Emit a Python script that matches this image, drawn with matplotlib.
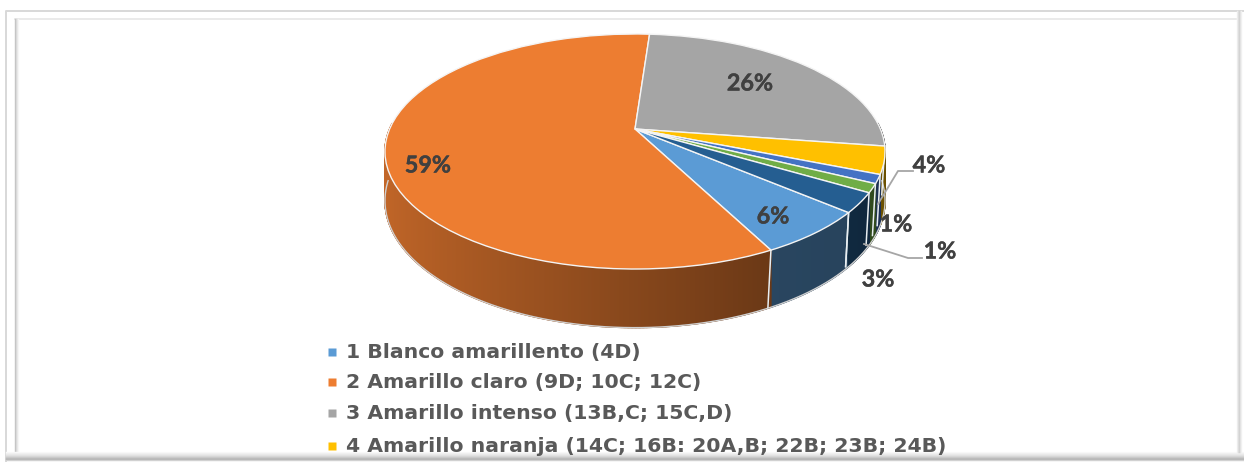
import numpy as np
import matplotlib
matplotlib.use("Agg")
import matplotlib.pyplot as plt
import matplotlib.patheffects as pe
from matplotlib.transforms import Transform
from matplotlib.collections import PolyCollection
from matplotlib.colors import to_rgb

# ---- data ----
slice_values = [6.2, 58.7, 26.2, 3.75, 1.2, 1.2, 2.7]
slice_colors = ["#5B9BD5", "#ED7D31", "#A5A5A5", "#FFC000", "#4472C4", "#70AD47", "#255E91"]
legend_labels = ["1 Blanco amarillento (4D)",
                 "2 Amarillo claro (9D; 10C; 12C)",
                 "3 Amarillo intenso (13B,C; 15C,D)",
                 "4 Amarillo naranja (14C; 16B: 20A,B; 22B; 23B; 24B)"]

# ---- layout ----
W, H = 1244, 464
X0, Y0 = 635, 130
A, B, K = 245.4, 113.2, 0.1915
DEPTH = 47.4
START_CW = 130.3  # clockwise from 12 o'clock
label_xy = [(773, 218), (428, 167), (750, 85), (929, 167), (896, 226), (940, 253), (878, 281)]
legend_y = [353, 383, 414, 447]

class Tilt(Transform):
    input_dims = output_dims = 2
    is_separable = False
    has_inverse = False
    def transform_non_affine(self, xy):
        xy = np.asarray(xy, float)
        u, v = xy[:, 0], -xy[:, 1]
        d = 1 - K * v
        return np.column_stack([X0 + A * u / d, Y0 + B * v / d])

fig = plt.figure(figsize=(W / 100, H / 100), dpi=100, facecolor="white")
ax = fig.add_axes([0, 0, 1, 1])

wedges, _ = ax.pie(slice_values, colors=slice_colors, startangle=90 - START_CW,
                   counterclock=False, radius=1,
                   wedgeprops=dict(edgecolor="#F4F4F4", linewidth=1.0))
tilt = Tilt()
for w in wedges:
    w.set_transform(tilt + ax.transData)
    w.set_zorder(3)
    w.set_clip_on(False)

ax.set_aspect("auto")
ax.set_xlim(0, W)
ax.set_ylim(H, 0)
ax.axis("off")

# ---- side wall ----
def project(th):
    u, v = np.sin(th), -np.cos(th)
    d = 1 - K * v
    return X0 + A * u / d, Y0 + B * v / d, DEPTH / d, u, v

fractions = np.array(slice_values) / sum(slice_values)
edges = np.radians(START_CW + 360 * np.concatenate([[0], np.cumsum(fractions)]))
polys, cols = [], []
for i, col in enumerate(slice_colors):
    th = np.linspace(edges[i], edges[i + 1], max(6, int(fractions[i] * 1400)))
    x, y, dep, u, v = project(th)
    rgb = np.array(to_rgb(col))
    for j in range(len(th) - 1):
        if v[j] < -0.05 and v[j + 1] < -0.05:
            continue
        polys.append([(x[j], y[j]), (x[j + 1], y[j + 1]),
                      (x[j + 1], y[j + 1] + dep[j + 1]), (x[j], y[j] + dep[j])])
        um = (u[j] + u[j + 1]) / 2
        f = np.interp(um, [-1, 0.46, 1], [0.82, 0.45, 0.42])
        cols.append(tuple(rgb * f))
ax.add_collection(PolyCollection(polys, facecolors=cols, edgecolors=cols,
                                 linewidths=1.0, zorder=2))
# white joins between slices on the wall
for e in edges:
    x, y, dep, u, v = project(np.array([e]))
    if v[0] > 0:
        ax.plot([x[0], x[0] - 3], [y[0], y[0] + dep[0]], color="#E8EEF2", lw=1.1, zorder=2.5)
# pale rim under the wall
th = np.radians(np.linspace(92, 268, 200))
x, y, dep, u, v = project(th)
ax.plot(x, y + dep, color="#D0D0D0", lw=1.0, zorder=2.2)

# ---- leader lines ----
ax.plot([878, 898, 913], [205, 172, 172], color="#A6A6A6", lw=1.3, zorder=4)
ax.plot([864, 908, 922], [245, 259, 259], color="#A6A6A6", lw=1.3, zorder=4)

# ---- data labels ----
heavy = [pe.withStroke(linewidth=0.3, foreground="#404040")]
for val, (lx, ly) in zip(slice_values, label_xy):
    ax.text(lx, ly, f"{round(val)}%", ha="center", va="center", fontsize=16.8,
            fontweight="bold", family="Lato", color="#404040", zorder=5, path_effects=heavy)

# ---- legend ----
for lab, col, ly in zip(legend_labels, slice_colors, legend_y):
    ax.plot([332], [ly], marker="s", ms=5.2, color=col, mec="none", zorder=5)
    ax.text(346, ly, lab, ha="left", va="center", fontsize=14.7, fontweight="bold",
            family="DejaVu Sans", color="#595959", zorder=5)

# ---- frame ----
ax.plot([6, 6, 1243], [462, 12, 12], color="#D8D8D8", lw=1.4, zorder=1)
ax.plot([15, 1236], [20, 20], color="#E6E6E6", lw=1.2, zorder=1)
for i, g in enumerate([0.76, 0.84, 0.90, 0.96]):
    ax.plot([15 + i, 15 + i], [20, 453], color=str(g), lw=1.0, zorder=1)
for i, g in enumerate([0.98, 0.95, 0.92, 0.89, 0.85, 0.80, 0.74, 0.70, 0.82]):
    ax.plot([6, 1243], [453 + i, 453 + i], color=str(g), lw=1.0, zorder=1)
for i, g in enumerate([0.94, 0.88, 0.82, 0.88, 0.94]):
    ax.plot([1237 + i, 1237 + i], [12, 453], color=str(g), lw=1.0, zorder=1)

fig.savefig("out.png", dpi=100, facecolor="white")
